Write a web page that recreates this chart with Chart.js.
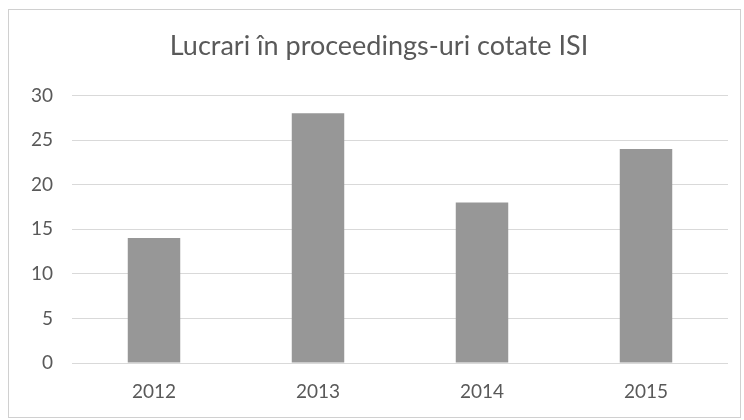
<!DOCTYPE html>
<html>
<head>
<meta charset="utf-8">
<script src="https://cdn.jsdelivr.net/npm/chart.js@4"></script>
<style>
  html, body { margin: 0; padding: 0; background: #fff; }
  #wrap { position: relative; width: 744px; height: 420px; }
  #frame { position: absolute; left: 8px; top: 9px; width: 731px; height: 407px; border: 1px solid #d0d0d0; }
  canvas { position: absolute; left: 0; top: 0; }
</style>
</head>
<body>
<div id="wrap">
  <div id="frame"></div>
  <canvas id="myChart" width="744" height="420"></canvas>
</div>
<script>
  // Datos
  const titlu = 'Lucrari în proceedings-uri cotate ISI';
  const ani = ['2012', '2013', '2014', '2015'];
  const lucrari = [14, 28, 18, 24];

  const ctx = document.getElementById('myChart').getContext('2d');
  const myChart = new Chart(ctx, {
    type: 'bar',
    data: {
      labels: ani,
      datasets: [{
        label: titlu,
        data: lucrari,
        backgroundColor: '#979797',
        borderWidth: 0,
        barPercentage: 0.32,
        categoryPercentage: 1
      }]
    },
    options: {
      responsive: false,
      animation: false,
      // padding stanga ca titlul sa fie mai spre dreapta, ca in original
      layout: { padding: { top: 10, left: 30, right: 16, bottom: 0 } },
      plugins: {
        legend: { display: false },
        tooltip: { enabled: false },
        title: {
          display: true,
          text: titlu,
          color: '#595959',
          font: { family: 'Lato', size: 27, weight: 'normal' },
          padding: { top: 20, bottom: 33 }
        }
      },
      scales: {
        x: {
          grid: { display: false, drawTicks: false },
          border: { display: false },
          ticks: { color: '#595959', font: { family: 'Lato', size: 19 }, padding: 17 },
          afterFit: function (s) { s.height = 57; }
        },
        y: {
          min: 0,
          max: 30,
          grid: { color: '#d9d9d9', drawTicks: false },
          border: { display: false },
          ticks: { stepSize: 5, color: '#595959', font: { family: 'Lato', size: 19 }, padding: 19 },
          afterFit: function (s) { s.width = 42; }
        }
      }
    }
  });
</script>
</body>
</html>
